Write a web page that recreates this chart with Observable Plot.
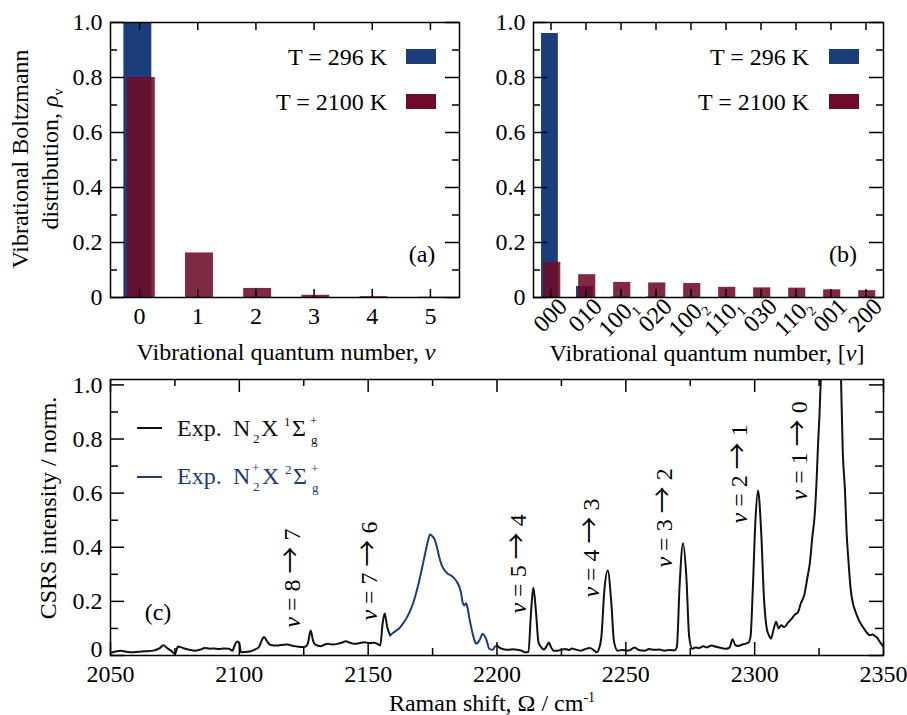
<!DOCTYPE html>
<html><head><meta charset="utf-8">
<script src="https://cdn.jsdelivr.net/npm/d3@7"></script>
<script src="https://cdn.jsdelivr.net/npm/@observablehq/plot@0.6"></script>
<style>
html,body{margin:0;padding:0;background:#fff;}
#fig{position:relative;width:907px;height:715px;overflow:hidden;background:#fff;}
#fig svg{position:absolute;overflow:visible;}
</style></head><body><div id="fig"></div>
<script>
// ---------------- data ----------------
const levelsA = [0, 1, 2, 3, 4, 5];
const rhoColdA = [1.0, 0.0, 0.0, 0.0, 0.0, 0.0];
const rhoHotA = [0.80, 0.162, 0.033, 0.008, 0.003, 0.001];

const levelsB = ["000", "010", "100_1", "020", "100_2", "110_1", "030", "110_2", "001", "200"];
const rhoColdB = [0.96, 0.040, 0.002, 0.002, 0.0, 0.0, 0.0, 0.0, 0.0, 0.0];
const rhoHotB = [0.128, 0.083, 0.055, 0.053, 0.051, 0.037, 0.035, 0.034, 0.028, 0.025];

const yTickLabels = [0, 0.2, 0.4, 0.6, 0.8, 1.0];
const shiftTickLabels = [2050, 2100, 2150, 2200, 2250, 2300, 2350];

// N2 X 1Σg+ spectrum, low-shift part (Raman shift cm-1, normalized intensity)
const n2LowShift = [2050.3,2052,2054,2056,2059,2062,2064.5,2067,2069,2070.5,2072,2073.5,2075,2076.2,2077.5,2079,2081,2083,2085,2086.5,2088.5,2090,2092,2094,2096,2097.3,2098.3,2099.2,2100,2100.6,2102,2104,2106,2107.5,2108.8,2109.6,2110.6,2111.8,2113.5,2115,2117,2118.7,2120.5,2122.5,2124,2125.8,2126.6,2127.7,2128.6,2129.5,2131.6,2133,2134.2,2136,2138,2140,2141.3,2143,2144.6,2146.5,2148.4,2150.5,2152.3,2153.8,2154.7,2155.6,2156.4,2157.4,2158.5];
const n2LowInt = [0.010,0.015,0.018,0.014,0.012,0.015,0.016,0.019,0.026,0.038,0.027,0.018,0.006,0.033,0.030,0.025,0.020,0.018,0.022,0.028,0.025,0.026,0.024,0.026,0.025,0.018,0.040,0.052,0.045,0.012,0.013,0.015,0.022,0.030,0.058,0.068,0.055,0.040,0.037,0.037,0.040,0.041,0.036,0.033,0.031,0.033,0.045,0.092,0.055,0.040,0.034,0.040,0.043,0.041,0.043,0.048,0.053,0.047,0.043,0.045,0.049,0.046,0.047,0.042,0.037,0.117,0.155,0.105,0.074];

// N2+ X 2Σg+ band
const n2pShift = [2158.5,2159.5,2160.8,2162,2163.4,2165,2166.6,2168,2169.2,2170.5,2171.8,2173,2174,2175,2175.7,2176.7,2177.6,2178.5,2179.5,2180.8,2182.1,2183.2,2184.1,2185.2,2186,2186.7,2187.3,2188,2188.6,2189.2,2190.2,2191.2,2191.9,2192.6,2193.4,2194.4,2195.2,2195.9,2197,2198.3,2199,2200];
const n2pInt = [0.074,0.082,0.092,0.100,0.117,0.140,0.172,0.210,0.252,0.305,0.363,0.415,0.447,0.440,0.431,0.400,0.363,0.335,0.317,0.303,0.296,0.288,0.277,0.258,0.234,0.195,0.185,0.193,0.175,0.142,0.095,0.058,0.043,0.048,0.060,0.080,0.072,0.058,0.025,0.021,0.030,0.037];

// N2 X 1Σg+ spectrum, high-shift part
const n2HighShift = [2200,2201.5,2203,2204.5,2206,2208,2209.5,2210.8,2212.2,2213.2,2214.1,2215.1,2216.1,2217.2,2218.2,2219.3,2220.1,2221,2221.9,2223.5,2225,2226.5,2228,2229,2230.5,2232.5,2234,2236,2237.5,2238.7,2239.6,2240.5,2241.7,2243,2244.4,2245.4,2246.8,2248.5,2250.5,2252,2253.4,2255,2257.3,2259,2261,2263,2265,2267,2269,2269.8,2270.9,2272.2,2273.5,2274.6,2275.8,2277,2278.5,2280,2281.5,2283.2,2285,2287,2289,2290.3,2291.4,2292.4,2293.5,2295,2296.2,2297.6,2298.4,2299.3,2300.3,2301.3,2302.5,2303.6,2304.6,2305.5,2306.3,2307.3,2308.3,2309.3,2310.3,2311.5,2312.8,2314.3,2315.5,2316.8,2318,2319.3,2320.5,2321.4,2322.4,2323.3,2324,2324.6,2325.2,2325.7,2326.5,2327.7,2329.5,2331.5,2332.7,2333.5,2334.2,2335,2335.7,2336.4,2337.2,2338.2,2339,2340.5,2342,2343.5,2344.7,2345.8,2346.7,2347.6,2348.6,2350];
const n2HighInt = [0.037,0.026,0.022,0.021,0.023,0.021,0.018,0.012,0.013,0.160,0.250,0.165,0.049,0.030,0.022,0.035,0.048,0.030,0.018,0.018,0.021,0.024,0.020,0.026,0.022,0.018,0.023,0.028,0.020,0.012,0.025,0.068,0.245,0.314,0.190,0.052,0.018,0.020,0.018,0.022,0.030,0.020,0.018,0.024,0.021,0.022,0.018,0.020,0.019,0.032,0.265,0.415,0.289,0.068,0.025,0.030,0.028,0.034,0.030,0.037,0.032,0.028,0.025,0.030,0.060,0.040,0.035,0.040,0.043,0.048,0.070,0.252,0.499,0.610,0.462,0.215,0.105,0.075,0.062,0.095,0.125,0.100,0.112,0.105,0.120,0.135,0.150,0.160,0.195,0.225,0.290,0.340,0.440,0.520,0.640,0.780,0.900,1.030,1.350,1.800,2.200,1.800,1.350,1.030,0.750,0.620,0.450,0.350,0.250,0.190,0.165,0.130,0.105,0.085,0.075,0.078,0.072,0.065,0.050,0.033];

// transition annotations (label, Raman shift, intensity at label start)
const transLabels = ["v = 8 → 7", "v = 7 → 6", "v = 5 → 4", "v = 4 → 3", "v = 3 → 2", "v = 2 → 1", "v = 1 → 0"];
const transShift = [2120.7, 2150.3, 2208.2, 2236.6, 2264.9, 2294.1, 2317.4];
const transInt = [0.103, 0.129, 0.155, 0.214, 0.325, 0.488, 0.573];

// ---------------- style ----------------
const FONT = '"Liberation Serif","Times New Roman",Times,serif';
const FS = 24;
const BLUE = "#1b3d7a", RED = "#6e0b28", NAVY = "#1f3b78";
const fmtY = d => d === 0 ? "0" : d.toFixed(1);
const yGrid = d3.range(11).map(i => i / 10);
const tickStyle = {stroke: "black", strokeWidth: 1.5};

function yEdgeTicks(vals, isMajor, fw, majL, minL) {
  const maj = vals.filter((v, i) => isMajor(i)), mi = vals.filter((v, i) => !isMajor(i));
  return [
    Plot.tickY(maj, {y: d => d, insetRight: fw - majL, ...tickStyle}),
    Plot.tickY(maj, {y: d => d, insetLeft: fw - majL, ...tickStyle}),
    Plot.tickY(mi, {y: d => d, insetRight: fw - minL, ...tickStyle}),
    Plot.tickY(mi, {y: d => d, insetLeft: fw - minL, ...tickStyle})
  ];
}
function xEdgeTicks(vals, isMajor, fh, majL, minL) {
  const maj = vals.filter((v, i) => isMajor(i)), mi = vals.filter((v, i) => !isMajor(i));
  return [
    Plot.tickX(maj, {x: d => d, insetBottom: fh - majL, ...tickStyle}),
    Plot.tickX(maj, {x: d => d, insetTop: fh - majL, ...tickStyle}),
    Plot.tickX(mi, {x: d => d, insetBottom: fh - minL, ...tickStyle}),
    Plot.tickX(mi, {x: d => d, insetTop: fh - minL, ...tickStyle})
  ];
}
const baseStyle = {fontFamily: FONT, fontSize: FS + "px", color: "black", background: "transparent"};

// text helpers
function addText(svg, x, y, parts, opt = {}) {
  const t = d3.select(svg).append("text")
    .attr("transform", `translate(${x},${y}) rotate(${opt.rotate || 0})`)
    .attr("text-anchor", opt.anchor || "middle")
    .attr("dy", "0.35em")
    .attr("fill", opt.fill || "black")
    .attr("font-family", FONT)
    .attr("font-size", opt.size || FS);
  for (const p of parts) {
    const s = t.append("tspan").text(p.t);
    if (p.italic) s.attr("font-style", "italic");
    if (p.size) s.attr("font-size", p.size);
    if (p.dy) s.attr("dy", p.dy);
  }
  return t;
}
function addAbsParts(svg, parts, fill) {
  const t = d3.select(svg).append("text").attr("fill", fill).attr("font-family", FONT)
    .attr("font-size", FS).attr("text-anchor", "start");
  for (const p of parts) {
    const s = t.append("tspan").attr("x", p.x).attr("y", p.y).text(p.t);
    if (p.size) s.attr("font-size", p.size);
  }
}
function legendPair(svg, textRight, swX, items) {
  const g = d3.select(svg).append("g");
  items.forEach(it => {
    g.append("text").attr("x", textRight).attr("y", it.y).attr("dy", "0.35em").attr("text-anchor", "end")
      .attr("font-family", FONT).attr("font-size", FS).attr("fill", "black").text(it.label);
    g.append("rect").attr("x", swX).attr("y", it.y - 8).attr("width", 30).attr("height", 15)
      .attr("fill", it.color);
  });
}

const fig = document.getElementById("fig");

// ---------------- panel (a) ----------------
const tableA = levelsA.map((v, i) => ({v, cold: rhoColdA[i], hot: rhoHotA[i]}));
const plotA = Plot.plot({
  width: 470, height: 365, marginLeft: 110, marginRight: 11, marginTop: 22, marginBottom: 68,
  x: {domain: [-0.5, 5.5]}, y: {domain: [0, 1]},
  style: baseStyle,
  marks: [
    Plot.rectY(tableA, {x1: d => d.v - 0.27, x2: d => d.v + 0.21, y1: () => 0, y2: d => d.cold, fill: BLUE}),
    Plot.rectY(tableA, {x1: d => d.v - 0.21, x2: d => d.v + 0.27, y1: () => 0, y2: d => d.hot, fill: RED, fillOpacity: 0.88}),
    ...yEdgeTicks(yGrid, i => i % 2 === 0, 349, 14, 7),
    ...xEdgeTicks(levelsA, () => true, 275, 8, 8),
    Plot.axisY({ticks: yTickLabels, tickSize: 0, tickPadding: 8, tickFormat: fmtY, label: null}),
    Plot.axisX({ticks: levelsA, tickSize: 0, tickPadding: 9, tickFormat: d => String(d), label: null}),
    Plot.frame({stroke: "black", strokeWidth: 1.5})
  ]
});
plotA.style.left = "0px"; plotA.style.top = "0px";
fig.appendChild(plotA);
addText(plotA, 20, 159, [{t: "Vibrational Boltzmann"}], {rotate: -90});
addText(plotA, 50, 159, [{t: "distribution, "}, {t: "ρ", italic: true}, {t: "v", size: 14, dy: 5}], {rotate: -90});
addText(plotA, 286, 352, [{t: "Vibrational quantum number, "}, {t: "v", italic: true}]);
addText(plotA, 422, 254, [{t: "(a)"}]);
legendPair(plotA, 387, 406, [{label: "T = 296 K", y: 57, color: BLUE}, {label: "T = 2100 K", y: 102, color: RED}]);

// ---------------- panel (b) ----------------
const idxB = levelsB.map((d, i) => i);
const tableB = levelsB.map((v, i) => ({i, cold: rhoColdB[i], hot: rhoHotB[i]}));
const plotB = Plot.plot({
  width: 437, height: 365, marginLeft: 63, marginRight: 24, marginTop: 22, marginBottom: 68,
  x: {domain: [-0.5, 9.5]}, y: {domain: [0, 1]},
  style: baseStyle,
  marks: [
    Plot.rectY(tableB, {x1: d => d.i - 0.27, x2: d => d.i + 0.21, y1: () => 0, y2: d => d.cold, fill: BLUE}),
    Plot.rectY(tableB, {x1: d => d.i - 0.21, x2: d => d.i + 0.28, y1: () => 0, y2: d => d.hot, fill: RED, fillOpacity: 0.88}),
    ...yEdgeTicks(yGrid, i => i % 2 === 0, 350, 14, 7),
    ...xEdgeTicks(idxB, () => true, 275, 8, 8),
    Plot.axisY({ticks: yTickLabels, tickSize: 0, tickPadding: 8, tickFormat: fmtY, label: null}),
    Plot.axisX({ticks: idxB, tickSize: 0, tickPadding: 4, tickRotate: -45, dx: 12, dy: 1, tickFormat: i => levelsB[i], label: null}),
    Plot.frame({stroke: "black", strokeWidth: 1.5})
  ]
});
plotB.style.left = "470px"; plotB.style.top = "0px";
fig.appendChild(plotB);
d3.select(plotB).selectAll('g[aria-label="x-axis tick label"] text').each(function () {
  const s = this.textContent;
  if (s.includes("_")) {
    const [base, sub] = s.split("_");
    const t = d3.select(this);
    t.text(base);
    t.append("tspan").attr("font-size", 14).attr("dy", 5).text(sub);
  }
});
addText(plotB, 237, 353, [{t: "Vibrational quantum number, ["}, {t: "v", italic: true}, {t: "]"}]);
addText(plotB, 373, 254, [{t: "(b)"}]);
legendPair(plotB, 339, 359, [{label: "T = 296 K", y: 57, color: BLUE}, {label: "T = 2100 K", y: 102, color: RED}]);

// ---------------- panel (c) ----------------
const lowRows = n2LowShift.map((x, i) => ({x, y: n2LowInt[i]}));
const ionRows = n2pShift.map((x, i) => ({x, y: n2pInt[i]}));
const highRows = n2HighShift.map((x, i) => ({x, y: n2HighInt[i]}));
const xGridC = d3.range(13).map(i => 2050 + 25 * i);
const plotC = Plot.plot({
  width: 907, height: 355, marginLeft: 110, marginRight: 24, marginTop: 19, marginBottom: 60,
  x: {domain: [2050, 2350]}, y: {domain: [0, 1.02]},
  style: baseStyle,
  marks: [
    Plot.line(lowRows, {x: "x", y: "y", stroke: "#111", strokeWidth: 2, curve: "monotone-x", clip: true}),
    Plot.line(highRows, {x: "x", y: "y", stroke: "#111", strokeWidth: 2, curve: "monotone-x", clip: true}),
    Plot.line(ionRows, {x: "x", y: "y", stroke: NAVY, strokeWidth: 2, curve: "monotone-x", clip: true}),
    Plot.text(transLabels, {x: (d, i) => transShift[i], y: (d, i) => transInt[i], text: d => d, rotate: -90, textAnchor: "start", fontSize: FS, fill: "black"}),
    ...yEdgeTicks(yGrid, i => i % 2 === 0, 773, 14, 8),
    ...xEdgeTicks(xGridC, i => i % 2 === 0, 276, 13, 7),
    Plot.axisY({ticks: yTickLabels, tickSize: 0, tickPadding: 8, tickFormat: fmtY, label: null}),
    Plot.axisX({ticks: shiftTickLabels, tickSize: 0, tickPadding: 9, tickFormat: d => String(d), label: null}),
    Plot.frame({stroke: "black", strokeWidth: 1.5})
  ]
});
plotC.style.left = "0px"; plotC.style.top = "360px";
fig.appendChild(plotC);
d3.select(plotC).selectAll("text").each(function () {
  const s = this.textContent;
  if (/^v = /.test(s)) {
    const t = d3.select(this);
    const rest = s.slice(1);
    const k = rest.indexOf("→");
    t.text("");
    t.append("tspan").attr("font-style", "italic").text("v");
    t.append("tspan").text(rest.slice(0, k));
    t.append("tspan").attr("font-family", '"Noto Sans CJK JP"').attr("font-size", 27).text("→");
    t.append("tspan").text(rest.slice(k + 1));
  }
});
// the "0" label of the intensity axis sits slightly above its tick in the reference
d3.select(plotC).selectAll('g[aria-label="y-axis tick label"] text').each(function () {
  if (this.textContent === "0") d3.select(this).attr("dy", -6);
});
addText(plotC, 48, 148, [{t: "CSRS intensity / norm."}], {rotate: -90});
addText(plotC, 492, 343, [{t: "Raman shift, Ω / cm"}, {t: "-1", size: 14, dy: -9}]);
addText(plotC, 158, 252, [{t: "(c)"}]);
d3.select(plotC).append("line").attr("x1", 137).attr("x2", 162).attr("y1", 68).attr("y2", 68).attr("stroke", "#111").attr("stroke-width", 2);
d3.select(plotC).append("line").attr("x1", 137).attr("x2", 162).attr("y1", 117).attr("y2", 117).attr("stroke", NAVY).attr("stroke-width", 2);
addAbsParts(plotC, [
  {t: "Exp.", x: 177, y: 76}, {t: "N", x: 233, y: 76}, {t: "2", x: 253, y: 83, size: 13},
  {t: "X", x: 261, y: 76}, {t: "1", x: 284, y: 66, size: 13}, {t: "Σ", x: 292, y: 76},
  {t: "+", x: 310, y: 65, size: 13}, {t: "g", x: 311, y: 84, size: 13}
], "#111");
addAbsParts(plotC, [
  {t: "Exp.", x: 177, y: 124}, {t: "N", x: 233, y: 124}, {t: "+", x: 252, y: 112, size: 13},
  {t: "2", x: 253, y: 131, size: 13}, {t: "X", x: 262, y: 124}, {t: "2", x: 285, y: 114, size: 13},
  {t: "Σ", x: 293, y: 124}, {t: "+", x: 311, y: 113, size: 13}, {t: "g", x: 312, y: 132, size: 13}
], NAVY);
</script></body></html>
